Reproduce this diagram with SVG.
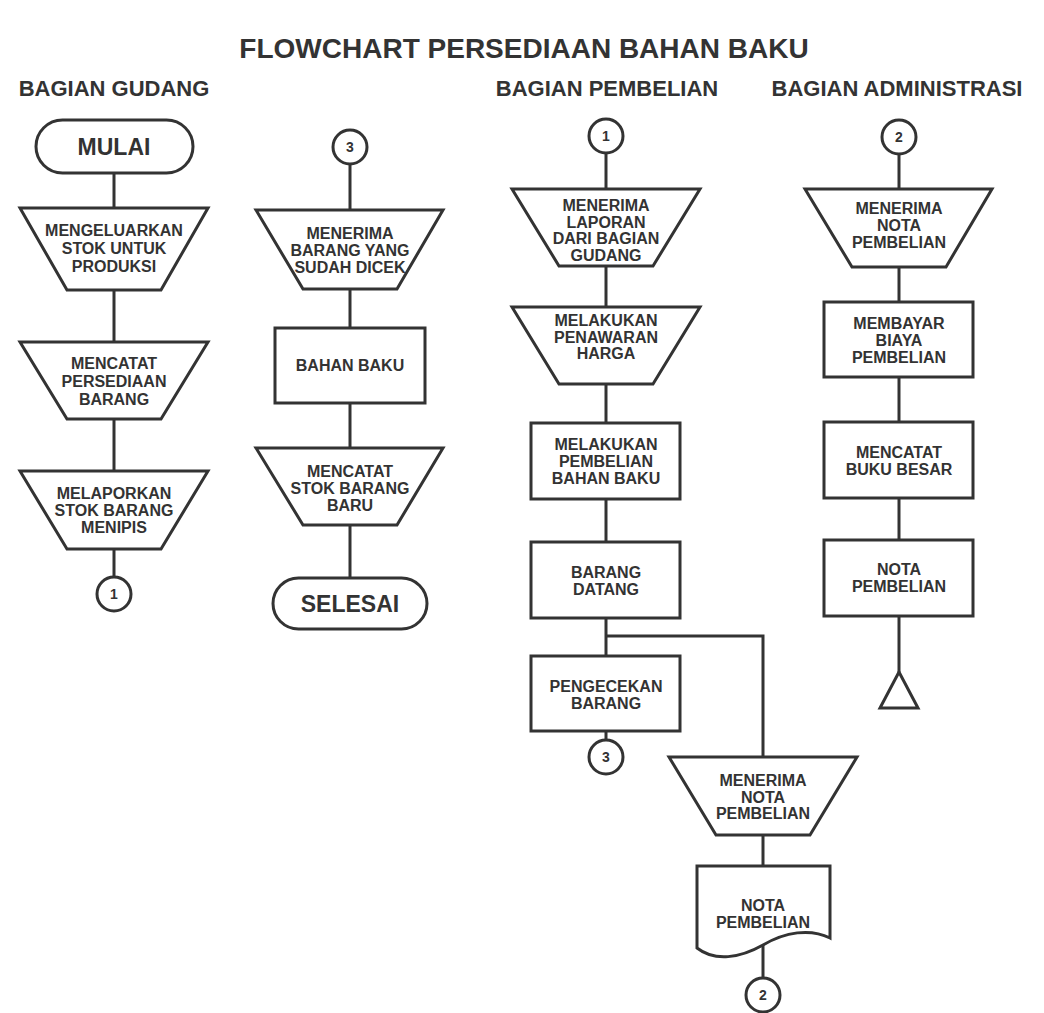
<svg xmlns="http://www.w3.org/2000/svg" width="1044" height="1013" viewBox="0 0 1044 1013">
  <style>
    .shape { fill: #ffffff; stroke: #333333; stroke-width: 3; stroke-linejoin: miter; }
    .link { fill: none; stroke: #333333; stroke-width: 3; }
    .lbl { font-family: "Liberation Sans", Arial, sans-serif; font-weight: bold; font-size: 16px; fill: #333333; text-anchor: middle; }
    .big { font-family: "Liberation Sans", Arial, sans-serif; font-weight: bold; font-size: 23px; fill: #333333; text-anchor: middle; }
    .num { font-family: "Liberation Sans", Arial, sans-serif; font-weight: bold; font-size: 14px; fill: #333333; text-anchor: middle; }
    .head { font-family: "Liberation Sans", Arial, sans-serif; font-weight: bold; font-size: 22px; fill: #333333; text-anchor: middle; }
    .title { font-family: "Liberation Sans", Arial, sans-serif; font-weight: bold; font-size: 28px; fill: #333333; text-anchor: middle; }
  </style>
  <rect width="1044" height="1013" fill="#ffffff"/>

  <text class="title" x="524" y="58">FLOWCHART PERSEDIAAN BAHAN BAKU</text>
  <text class="head" x="114" y="96">BAGIAN GUDANG</text>
  <text class="head" x="607" y="96">BAGIAN PEMBELIAN</text>
  <text class="head" x="897" y="96">BAGIAN ADMINISTRASI</text>

  <!-- connectors -->
  <g id="connectors">
    <line class="link" x1="114" y1="173" x2="114" y2="208"/>
    <line class="link" x1="114" y1="290" x2="114" y2="342"/>
    <line class="link" x1="114" y1="419" x2="114" y2="471"/>
    <line class="link" x1="114" y1="549" x2="114" y2="577"/>

    <line class="link" x1="350" y1="164" x2="350" y2="210"/>
    <line class="link" x1="350" y1="289" x2="350" y2="328"/>
    <line class="link" x1="350" y1="403" x2="350" y2="448"/>
    <line class="link" x1="350" y1="525" x2="350" y2="578"/>

    <line class="link" x1="606" y1="153" x2="606" y2="189"/>
    <line class="link" x1="606" y1="266" x2="606" y2="307"/>
    <line class="link" x1="606" y1="384" x2="606" y2="423"/>
    <line class="link" x1="606" y1="499" x2="606" y2="542"/>
    <line class="link" x1="606" y1="618" x2="606" y2="656"/>
    <polyline class="link" points="606,636 763,636 763,757"/>
    <line class="link" x1="606" y1="731" x2="606" y2="740"/>

    <line class="link" x1="763" y1="835" x2="763" y2="866"/>
    <line class="link" x1="763" y1="945" x2="763" y2="978"/>

    <line class="link" x1="899" y1="154" x2="899" y2="189"/>
    <line class="link" x1="899" y1="267" x2="899" y2="302"/>
    <line class="link" x1="899" y1="377" x2="899" y2="422"/>
    <line class="link" x1="899" y1="498" x2="899" y2="540"/>
    <line class="link" x1="899" y1="616" x2="899" y2="672"/>
  </g>

  <!-- Bagian Gudang -->
  <g id="mulai">
    <rect class="shape" x="36" y="120" width="157" height="53" rx="26.5"/>
    <text class="big" x="114" y="155">MULAI</text>
  </g>
  <g id="mengeluarkan-stok">
    <polygon class="shape" points="20,208 208,208 161,290 67,290"/>
    <text class="lbl" x="114" y="236">MENGELUARKAN</text>
    <text class="lbl" x="114" y="254">STOK UNTUK</text>
    <text class="lbl" x="114" y="272">PRODUKSI</text>
  </g>
  <g id="mencatat-persediaan">
    <polygon class="shape" points="20,342 208,342 161,419 67,419"/>
    <text class="lbl" x="114" y="369">MENCATAT</text>
    <text class="lbl" x="114" y="387">PERSEDIAAN</text>
    <text class="lbl" x="114" y="405">BARANG</text>
  </g>
  <g id="melaporkan-stok">
    <polygon class="shape" points="20,471 208,471 161,549 67,549"/>
    <text class="lbl" x="114" y="499">MELAPORKAN</text>
    <text class="lbl" x="114" y="516">STOK BARANG</text>
    <text class="lbl" x="114" y="533">MENIPIS</text>
  </g>
  <g id="konektor-1-gudang">
    <circle class="shape" cx="114" cy="594" r="17"/>
    <text class="num" x="114" y="599">1</text>
  </g>

  <!-- Bagian Gudang, lanjutan -->
  <g id="konektor-3-masuk">
    <circle class="shape" cx="350" cy="147" r="17"/>
    <text class="num" x="350" y="152">3</text>
  </g>
  <g id="menerima-barang">
    <polygon class="shape" points="256,210 443,210 397,289 303,289"/>
    <text class="lbl" x="350" y="239">MENERIMA</text>
    <text class="lbl" x="350" y="256">BARANG YANG</text>
    <text class="lbl" x="350" y="273">SUDAH DICEK</text>
  </g>
  <g id="bahan-baku">
    <rect class="shape" x="275" y="328" width="150" height="75"/>
    <text class="lbl" x="350" y="371">BAHAN BAKU</text>
  </g>
  <g id="mencatat-stok-baru">
    <polygon class="shape" points="256,448 443,448 397,525 303,525"/>
    <text class="lbl" x="350" y="477">MENCATAT</text>
    <text class="lbl" x="350" y="494">STOK BARANG</text>
    <text class="lbl" x="350" y="511">BARU</text>
  </g>
  <g id="selesai">
    <rect class="shape" x="273" y="578" width="154" height="51" rx="25.5"/>
    <text class="big" x="350" y="612">SELESAI</text>
  </g>

  <!-- Bagian Pembelian -->
  <g id="konektor-1-pembelian">
    <circle class="shape" cx="606" cy="136" r="17"/>
    <text class="num" x="606" y="141">1</text>
  </g>
  <g id="menerima-laporan">
    <polygon class="shape" points="512,189 700,189 653,266 559,266"/>
    <text class="lbl" x="606" y="211">MENERIMA</text>
    <text class="lbl" x="606" y="228">LAPORAN</text>
    <text class="lbl" x="606" y="244">DARI BAGIAN</text>
    <text class="lbl" x="606" y="261">GUDANG</text>
  </g>
  <g id="penawaran-harga">
    <polygon class="shape" points="512,307 700,307 653,384 559,384"/>
    <text class="lbl" x="606" y="326">MELAKUKAN</text>
    <text class="lbl" x="606" y="343">PENAWARAN</text>
    <text class="lbl" x="606" y="359">HARGA</text>
  </g>
  <g id="pembelian-bahan-baku">
    <rect class="shape" x="531" y="423" width="149" height="76"/>
    <text class="lbl" x="606" y="450">MELAKUKAN</text>
    <text class="lbl" x="606" y="467">PEMBELIAN</text>
    <text class="lbl" x="606" y="484">BAHAN BAKU</text>
  </g>
  <g id="barang-datang">
    <rect class="shape" x="531" y="542" width="149" height="76"/>
    <text class="lbl" x="606" y="578">BARANG</text>
    <text class="lbl" x="606" y="595">DATANG</text>
  </g>
  <g id="pengecekan-barang">
    <rect class="shape" x="531" y="656" width="149" height="75"/>
    <text class="lbl" x="606" y="692">PENGECEKAN</text>
    <text class="lbl" x="606" y="709">BARANG</text>
  </g>
  <g id="konektor-3-keluar">
    <circle class="shape" cx="606" cy="757" r="17"/>
    <text class="num" x="606" y="762">3</text>
  </g>
  <g id="menerima-nota">
    <polygon class="shape" points="669,757 857,757 810,835 716,835"/>
    <text class="lbl" x="763" y="786">MENERIMA</text>
    <text class="lbl" x="763" y="803">NOTA</text>
    <text class="lbl" x="763" y="819">PEMBELIAN</text>
  </g>
  <g id="dokumen-nota">
    <path class="shape" d="M697,866 H830 V938 C810,928 785,932 763,945 C740,958 715,962 697,948 Z"/>
    <text class="lbl" x="763" y="911">NOTA</text>
    <text class="lbl" x="763" y="928">PEMBELIAN</text>
  </g>
  <g id="konektor-2-keluar">
    <circle class="shape" cx="763" cy="995" r="17"/>
    <text class="num" x="763" y="1000">2</text>
  </g>

  <!-- Bagian Administrasi -->
  <g id="konektor-2-masuk">
    <circle class="shape" cx="899" cy="137" r="17"/>
    <text class="num" x="899" y="142">2</text>
  </g>
  <g id="menerima-nota-admin">
    <polygon class="shape" points="805,189 992,189 946,267 852,267"/>
    <text class="lbl" x="899" y="214">MENERIMA</text>
    <text class="lbl" x="899" y="231">NOTA</text>
    <text class="lbl" x="899" y="248">PEMBELIAN</text>
  </g>
  <g id="membayar-biaya">
    <rect class="shape" x="824" y="302" width="149" height="75"/>
    <text class="lbl" x="899" y="329">MEMBAYAR</text>
    <text class="lbl" x="899" y="346">BIAYA</text>
    <text class="lbl" x="899" y="363">PEMBELIAN</text>
  </g>
  <g id="buku-besar">
    <rect class="shape" x="824" y="422" width="149" height="76"/>
    <text class="lbl" x="899" y="458">MENCATAT</text>
    <text class="lbl" x="899" y="475">BUKU BESAR</text>
  </g>
  <g id="nota-pembelian-admin">
    <rect class="shape" x="824" y="540" width="149" height="76"/>
    <text class="lbl" x="899" y="575">NOTA</text>
    <text class="lbl" x="899" y="592">PEMBELIAN</text>
  </g>
  <g id="arsip">
    <polygon class="shape" points="899,672 880,708 918,708"/>
  </g>
</svg>
